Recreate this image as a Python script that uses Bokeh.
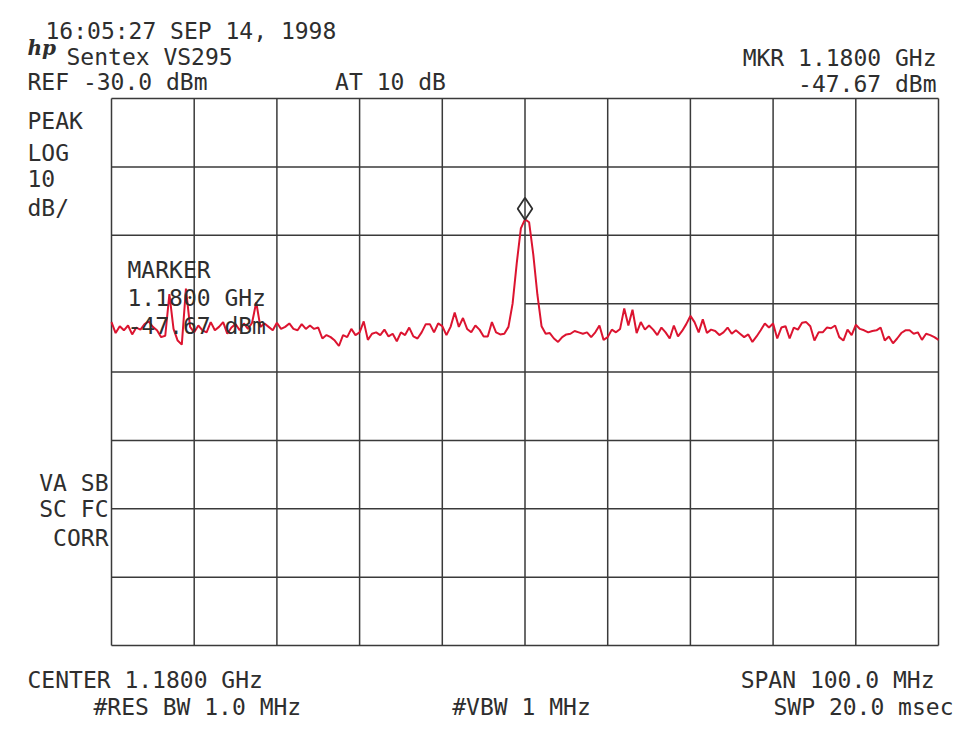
from bokeh.plotting import figure
from bokeh.models import Label, Range1d
from bokeh.embed import file_html
from bokeh.resources import INLINE

# ---- instrument settings ----
CENTER_MHZ = 1180.0
SPAN_MHZ = 100.0
REF_DBM = -30.0
DB_PER_DIV = 10.0
N_XDIV = 10
N_YDIV = 8
SWEEP_START_MHZ = 1130.0
SWEEP_STEP_MHZ = 0.5

# ---- marker ----
MKR_MHZ = 1180.0
MKR_DBM = -47.67

# ---- trace amplitudes (dBm), one per sweep point ----
trace_dbm = [
    -62.7, -64.3, -63.3, -63.9, -63.2, -64.5, -63.5, -63.8, -63.0, -62.6,
    -63.4, -63.9, -64.9, -64.7, -58.6, -63.7, -65.4, -66.0, -57.8, -63.4,
    -64.2, -63.2, -63.9, -64.2, -62.7, -63.9, -63.4, -62.7, -64.4, -63.5,
    -63.0, -63.9, -62.9, -63.7, -62.8, -59.8, -63.4, -62.9, -63.4, -63.9,
    -62.8, -63.7, -63.4, -62.9, -63.7, -63.9, -63.0, -63.7, -63.2, -63.7,
    -63.5,
    -65.1, -64.6, -64.9, -65.4, -66.2, -64.6, -64.9, -63.7, -64.6, -64.2,
    -62.6, -65.3, -64.4, -64.2, -64.6, -63.8, -64.8, -64.4, -65.5, -64.2,
    -64.6, -63.5, -64.8, -65.1, -64.2, -63.0, -63.0, -64.2, -62.9, -63.3,
    -64.6, -63.4, -61.3, -63.4, -62.1, -63.7, -64.2, -63.2, -63.8, -64.8,
    -64.8, -62.7, -64.2, -64.5, -64.4, -63.4, -60.0, -54.1, -49.0, -47.67,
    -48.1, -52.8, -58.7, -63.3,
    -64.4, -64.3, -65.1, -65.6, -64.9, -64.5, -64.4, -64.0, -64.2, -64.4,
    -64.2, -64.9, -64.2, -63.2, -65.3, -64.9, -63.8, -64.2, -63.7, -60.7,
    -63.2, -60.9, -64.3, -62.7, -63.8, -63.2, -63.8, -64.6, -63.5, -64.2,
    -65.1, -63.2, -64.8, -64.0, -63.0, -61.8, -62.7, -64.2, -62.3, -64.3,
    -63.8, -64.0, -64.6, -64.2, -63.5, -64.4, -63.9, -64.4, -64.9,
    -64.5, -65.6, -64.8, -63.9, -62.9, -63.5, -62.9, -65.1, -63.5, -63.3,
    -65.1, -63.5, -63.8, -62.8, -62.7, -63.3, -65.4, -64.2, -64.2, -63.5,
    -63.6, -63.2, -64.9, -65.4, -63.8, -64.6, -63.1, -63.7, -63.9, -64.2,
    -64.0, -63.9, -63.5, -65.4, -64.8, -65.8, -65.1, -64.3, -63.9, -63.9,
    -64.4, -64.2, -65.3, -64.4, -64.6, -64.9, -65.3,
]
trace_mhz = [SWEEP_START_MHZ + SWEEP_STEP_MHZ * i for i in range(len(trace_dbm))]

# ---- annotation texts ----
header_texts = ["16:05:27 SEP 14, 1998", "Sentex VS295", "REF -30.0 dBm", "AT 10 dB",
                "MKR 1.1800 GHz", "-47.67 dBm"]
side_texts = ["PEAK", "LOG", "10", "dB/", "VA SB", "SC FC", "CORR"]
marker_texts = ["MARKER", "1.1800 GHz", "-47.67 dBm"]
footer_texts = ["CENTER 1.1800 GHz", "#RES BW 1.0 MHz", "#VBW 1 MHz",
                "SPAN 100.0 MHz", "SWP 20.0 msec"]

# ---- layout (pixels on the page) ----
W, H = 960, 730
GX0, GX1, GY0, GY1 = 111, 938, 98, 645   # graticule box

f_lo = CENTER_MHZ - SPAN_MHZ / 2
f_hi = CENTER_MHZ + SPAN_MHZ / 2
y_lo = REF_DBM - DB_PER_DIV * N_YDIV
y_hi = REF_DBM


def fx(px):
    return f_lo + (px - GX0) / (GX1 - GX0) * SPAN_MHZ


def fy(py):
    return y_hi - (py - GY0) / (GY1 - GY0) * (y_hi - y_lo)


INK = "#2e2e2e"
GRID = "#3a3a3a"
TRACE = "#dc1430"
FONT = "DejaVu Sans Mono"
FS = "23px"

p = figure(width=W, height=H, x_range=Range1d(fx(0), fx(W)), y_range=Range1d(fy(H), fy(0)),
           x_axis_type=None, y_axis_type=None, output_backend="svg", toolbar_location=None,
           min_border=0)
p.background_fill_color = "white"
p.border_fill_color = "white"
p.outline_line_color = None
p.grid.visible = False

# graticule
xdiv = SPAN_MHZ / N_XDIV
vx = [f_lo + xdiv * k for k in range(N_XDIV + 1)]
p.segment(x0=vx, x1=vx, y0=[y_lo] * len(vx), y1=[y_hi] * len(vx),
          line_color=GRID, line_width=1.5)
hy = [y_hi - DB_PER_DIV * k for k in range(N_YDIV + 1) if k != 3]
p.segment(x0=[f_lo] * len(hy), x1=[f_hi] * len(hy), y0=hy, y1=hy,
          line_color=GRID, line_width=1.5)
half_db = y_hi - DB_PER_DIV * 3   # this graticule line is only drawn right of centre
p.segment(x0=[CENTER_MHZ], x1=[f_hi], y0=[half_db], y1=[half_db],
          line_color=GRID, line_width=1.5)

p.line(trace_mhz, trace_dbm, line_color=TRACE, line_width=2.0)

px_per_db = (GY1 - GY0) / (y_hi - y_lo)
p.scatter([MKR_MHZ], [MKR_DBM + 10.5 / px_per_db], marker="diamond", size=22,
          fill_color=None, line_color=INK, line_width=1.8)


def lab(text, px, py, align="left", size=FS, font=FONT, style="normal"):
    p.add_layout(Label(x=fx(px), y=fy(py), text=text, text_align=align,
                       text_baseline="alphabetic", text_font=font,
                       text_font_size=size, text_color=INK, text_font_style=style))


# logo
lab("hp", 27, 47, size="20px", font="DejaVu Serif", style="bold italic")
# header
lab(header_texts[0], 45, 30)
lab(header_texts[1], 66, 56)
lab(header_texts[2], 27, 81)
lab(header_texts[3], 390, 81, align="center")
lab(header_texts[4], 936, 57, align="right")
lab(header_texts[5], 936, 83, align="right")
# left column
for t, yb in zip(side_texts[:4], [120, 152, 178, 207]):
    lab(t, 27, yb)
for t, yb in zip(side_texts[4:], [482, 508, 537]):
    lab(t, 108, yb, align="right")
# marker readout
for t, yb in zip(marker_texts, [269, 297, 325]):
    lab(t, 127, yb)
# footer
lab(footer_texts[0], 27, 679)
lab(footer_texts[1], 93, 706)
lab(footer_texts[2], 521, 706, align="center")
lab(footer_texts[3], 934, 679, align="right")
lab(footer_texts[4], 953, 706, align="right")

open("out.html", "w").write(file_html(p, INLINE))
